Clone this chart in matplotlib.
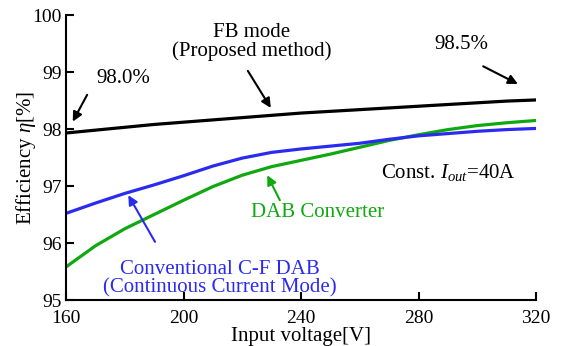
import numpy as np
import matplotlib.pyplot as plt

plt.rcParams['font.family'] = ['Liberation Serif', 'DejaVu Serif']
plt.rcParams['mathtext.fontset'] = 'custom'
plt.rcParams['mathtext.rm'] = 'Liberation Serif'
plt.rcParams['mathtext.it'] = 'Liberation Serif:italic'

# input voltage [V]
vin = [160, 170, 180, 190, 200, 210, 220, 230, 240, 250, 260, 270, 280, 290, 300, 310, 320]

# efficiency [%]
eff_fb = [97.93, 97.98, 98.03, 98.08, 98.12, 98.16, 98.20, 98.24, 98.28,
          98.31, 98.34, 98.37, 98.40, 98.43, 98.46, 98.49, 98.51]
eff_cf = [96.52, 96.70, 96.87, 97.02, 97.18, 97.35, 97.49, 97.59, 97.65,
          97.70, 97.75, 97.82, 97.88, 97.92, 97.96, 97.99, 98.01]
eff_dab = [95.58, 95.95, 96.25, 96.50, 96.75, 96.99, 97.19, 97.34, 97.45,
           97.56, 97.68, 97.80, 97.90, 97.99, 98.06, 98.11, 98.15]

xticks = [160, 200, 240, 280, 320]
yticks = [95, 96, 97, 98, 99, 100]

blue = '#2b2bf0'
green = '#10a810'

fig = plt.figure(figsize=(5.63, 3.46), dpi=100)
ax = fig.add_axes([0.1172, 0.1329, 0.835, 0.8237])

ax.plot(vin, eff_dab, color=green, lw=2.3, solid_capstyle='butt')
ax.plot(vin, eff_cf, color=blue, lw=2.3, solid_capstyle='butt')
ax.plot(vin, eff_fb, color='black', lw=2.3, solid_capstyle='butt')

ax.set_xlim(160, 320)
ax.set_ylim(95, 100)
ax.set_xticks(xticks)
ax.set_yticks(yticks)
ax.tick_params(direction='in', length=6, width=1.5, labelsize=14, pad=3)
ax.tick_params(axis='x', pad=7)
for s in ['top', 'right']:
    ax.spines[s].set_visible(False)
for s in ['left', 'bottom']:
    ax.spines[s].set_linewidth(1.5)
ax.set_xlabel('Input voltage[V]', fontsize=15, labelpad=0.5)
ax.set_ylabel(r'Efficiency $\it{\eta}$[%]', fontsize=15, labelpad=-4)

arrow = dict(arrowstyle='-|>', mutation_scale=14, lw=1.5, shrinkA=0, shrinkB=0)

ax.text(223.3, 99.52, 'FB mode\n(Proposed method)', ha='center', va='center',
        fontsize=15, linespacing=0.95)
ax.annotate('', xy=(229.7, 98.37), xytext=(221.9, 99.02),
            arrowprops=dict(arrow, color='black'))

ax.text(179.4, 98.88, '98.0%', ha='center', va='center', fontsize=15)
ax.annotate('', xy=(162.3, 98.13), xytext=(167.2, 98.60),
            arrowprops=dict(arrow, color='black'))

ax.text(294.7, 99.49, '98.5%', ha='center', va='center', fontsize=15)
ax.annotate('', xy=(313.8, 98.79), xytext=(302.0, 99.10),
            arrowprops=dict(arrow, color='black'))

ax.text(245.5, 96.53, 'DAB Converter', ha='center', va='center',
        fontsize=15, color=green)
ax.annotate('', xy=(228.5, 97.19), xytext=(232.8, 96.75),
            arrowprops=dict(arrow, color=green))

ax.text(212.4, 95.38, 'Conventional C-F DAB\n(Continuous Current Mode)',
        ha='center', va='center', fontsize=15, color=blue, linespacing=0.95)
ax.annotate('', xy=(181.2, 96.84), xytext=(190.3, 96.02),
            arrowprops=dict(arrow, color=blue))

ax.text(290.3, 97.23, r'Const. $I_{out}$=40A', ha='center', va='center', fontsize=15)

fig.savefig('out.png', dpi=100)
